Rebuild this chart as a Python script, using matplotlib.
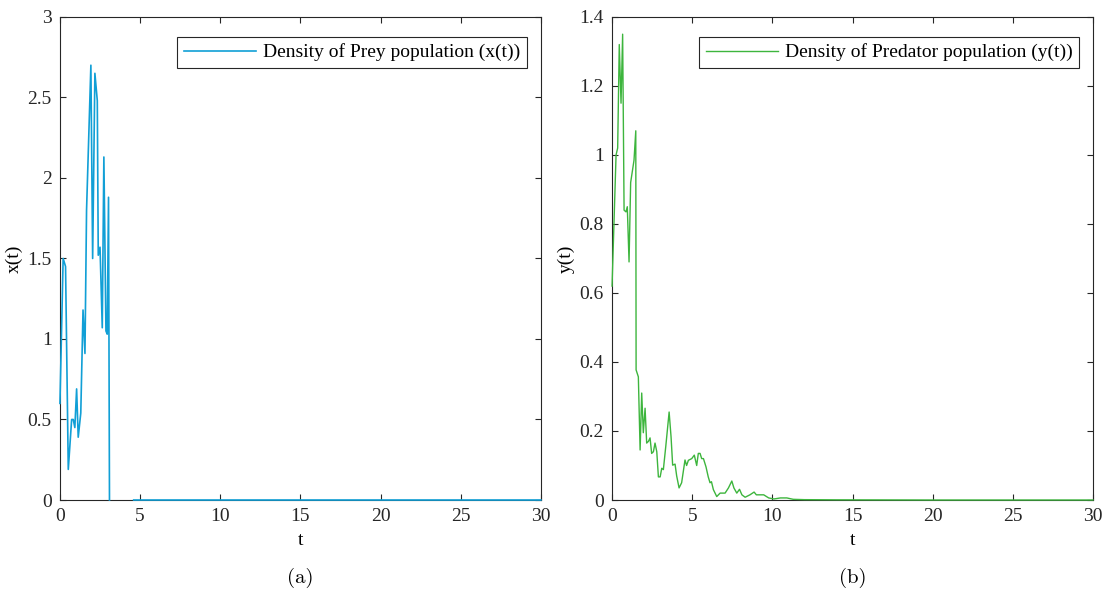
import numpy as np
import matplotlib.pyplot as plt

# prey density x(t)
t_prey = [0.0, 0.2, 0.35, 0.52, 0.73, 0.83, 0.93, 1.04, 1.14, 1.3, 1.44, 1.56, 1.66,
          1.93, 2.04, 2.18, 2.33, 2.39, 2.5, 2.64, 2.74, 2.87, 2.95, 3.03, 3.09,
          3.1, 4.6, 10, 20, 30]
x_prey = [0.6, 1.5, 1.45, 0.19, 0.5, 0.5, 0.45, 0.69, 0.39, 0.54, 1.18, 0.91, 1.8,
          2.7, 1.5, 2.65, 2.48, 1.52, 1.57, 1.07, 2.13, 1.05, 1.03, 1.88, 0.0,
          np.nan, 0.0, 0.0, 0.0, 0.0]

# predator density y(t)
t_pred = [0.0, 0.25, 0.35, 0.45, 0.56, 0.66, 0.75, 0.87, 0.95, 1.06, 1.16, 1.37, 1.48,
          1.5, 1.64, 1.75, 1.85, 1.95, 2.06, 2.16, 2.27, 2.37, 2.47, 2.58, 2.68, 2.79,
          2.89, 3.0, 3.1, 3.2, 3.35, 3.56, 3.68, 3.78, 3.93, 4.03, 4.18, 4.34, 4.55,
          4.65, 4.76, 4.97, 5.13, 5.28, 5.38, 5.49, 5.59, 5.7, 5.86, 6.0, 6.11, 6.2,
          6.32, 6.53, 6.74, 7.05, 7.26, 7.47, 7.6, 7.78, 7.95, 8.1, 8.3, 8.6, 8.86,
          9.0, 9.46, 9.77, 10.1, 10.5, 10.9, 11.3, 12.0, 14.0, 20.0, 30.0]
y_pred = [0.62, 1.0, 1.02, 1.32, 1.15, 1.35, 0.84, 0.835, 0.85, 0.69, 0.92, 0.985, 1.07,
          0.377, 0.357, 0.145, 0.31, 0.195, 0.266, 0.165, 0.17, 0.18, 0.135, 0.14, 0.165, 0.14,
          0.067, 0.067, 0.092, 0.088, 0.155, 0.255, 0.183, 0.101, 0.104, 0.07, 0.035, 0.05, 0.116,
          0.1, 0.115, 0.12, 0.13, 0.1, 0.135, 0.135, 0.12, 0.12, 0.096, 0.067, 0.05, 0.053,
          0.03, 0.01, 0.02, 0.02, 0.035, 0.055, 0.035, 0.02, 0.031, 0.015, 0.008, 0.015, 0.023,
          0.015, 0.015, 0.006, 0.003, 0.006, 0.006, 0.002, 0.001, 0.0005, 0.0, 0.0]

plt.rcParams['font.family'] = ['Liberation Serif', 'DejaVu Serif']
plt.rcParams['font.size'] = 14

fig = plt.figure(figsize=(11.1, 5.92), dpi=100)
ax1 = fig.add_axes([0.054, 0.1554, 0.4333, 0.816])
ax2 = fig.add_axes([0.5514, 0.1554, 0.4333, 0.816])

ax1.plot(t_prey, x_prey, color='#119fd6', lw=1.2, clip_on=False, zorder=3,
         label='Density of Prey population (x(t))')
ax2.plot(t_pred, y_pred, color='#3db53d', lw=1.0, clip_on=False, zorder=3,
         label='Density of Predator population (y(t))')

ax1.set_xlim(0, 30)
ax1.set_ylim(0, 3)
ax1.set_yticks([0, 0.5, 1, 1.5, 2, 2.5, 3])
ax1.set_yticklabels(['0', '0.5', '1', '1.5', '2', '2.5', '3'])
ax1.set_ylabel('x(t)', labelpad=3)

ax2.set_xlim(0, 30)
ax2.set_ylim(0, 1.4)
ax2.set_yticks([0, 0.2, 0.4, 0.6, 0.8, 1, 1.2, 1.4])
ax2.set_yticklabels(['0', '0.2', '0.4', '0.6', '0.8', '1', '1.2', '1.4'])
ax2.set_ylabel('y(t)', labelpad=3)

for ax, tag in [(ax1, '(a)'), (ax2, '(b)')]:
    ax.set_xticks([0, 5, 10, 15, 20, 25, 30])
    ax.set_xlabel('t', labelpad=5)
    ax.tick_params(direction='in', top=True, right=True, length=4, width=0.8,
                   colors='#262626', labelsize=14)
    ax.tick_params(axis='x', pad=6)
    ax.tick_params(axis='y', pad=6)
    for s in ax.spines.values():
        s.set_color('#262626')
        s.set_linewidth(0.8)
    leg = ax.legend(loc='upper right', bbox_to_anchor=(0.971, 0.959), fontsize=14,
                    fancybox=False, framealpha=1, edgecolor='#262626',
                    handlelength=3.7, handletextpad=0.35, borderaxespad=0,
                    borderpad=0.35)
    leg.get_frame().set_linewidth(0.8)
    ax.text(0.5, -0.162, tag, transform=ax.transAxes, ha='center', va='center',
            fontsize=15, family='cmr10')

fig.savefig('out.png', dpi=100)
